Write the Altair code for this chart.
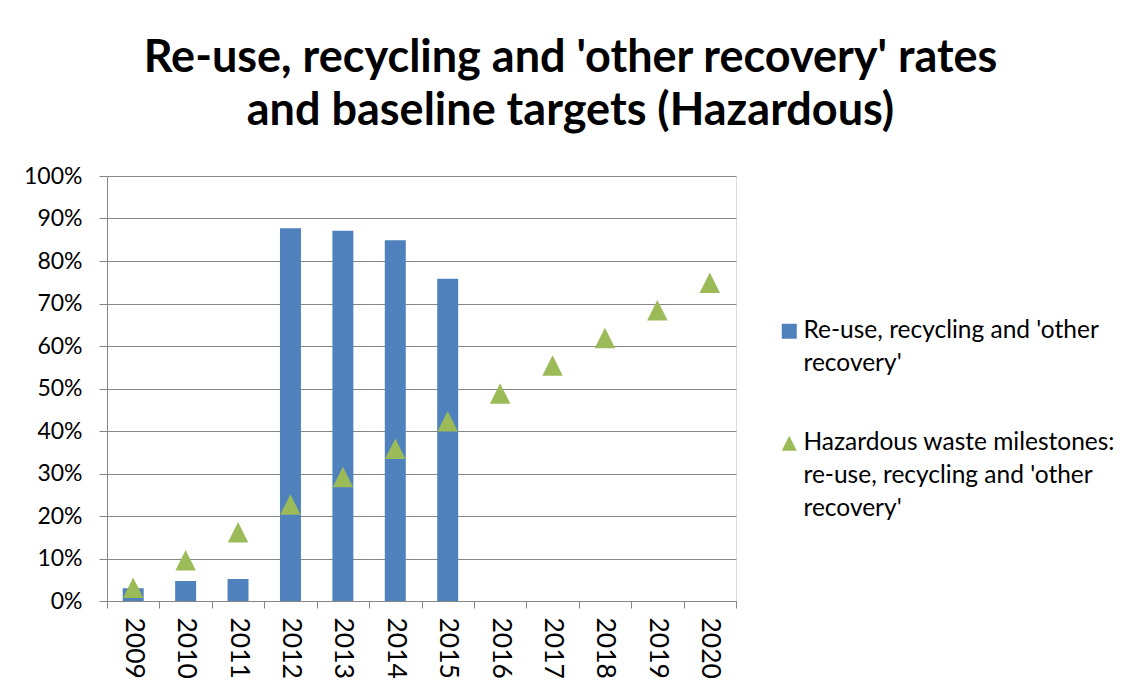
import json
import altair as alt
import pandas as pd

YEARS = ["2009", "2010", "2011", "2012", "2013", "2014", "2015",
         "2016", "2017", "2018", "2019", "2020"]
BAR_YEARS = ["2009", "2010", "2011", "2012", "2013", "2014", "2015"]
BAR_VALUES = [3.0, 4.7, 5.2, 87.7, 87.1, 84.9, 75.8]
MILESTONES = [3.1, 9.6, 16.2, 22.7, 29.2, 35.8, 42.3, 48.8, 55.4, 61.9, 68.4, 74.9]
SERIES = ["Re-use, recycling and 'other recovery'",
          "Hazardous waste milestones: re-use, recycling and 'other recovery'"]
LEGEND_LINES = [["Re-use, recycling and 'other", "recovery'"],
                ["Hazardous waste milestones:", "re-use, recycling and 'other", "recovery'"]]
TITLE = ["Re-use, recycling and 'other recovery' rates", "and baseline targets (Hazardous)"]
Y_TICKS = [0, 10, 20, 30, 40, 50, 60, 70, 80, 90, 100]

BLUE = "#4F81BD"
GREEN = "#9BBB59"
GRID = "#868686"
FONT = "Lato"

bars = pd.DataFrame({"year": BAR_YEARS, "value": BAR_VALUES, "series": SERIES[0]})
pts = pd.DataFrame({"year": YEARS, "value": MILESTONES, "series": SERIES[1]})

label_expr = ("datum.label == " + json.dumps(SERIES[0]) + " ? " + json.dumps(LEGEND_LINES[0])
              + " : " + json.dumps(LEGEND_LINES[1]))

legend = alt.Legend(
    title=None, orient="none", legendX=670, legendY=143, padding=0,
    labelFont=FONT, labelFontSize=24.5, labelColor="black", labelLimit=500,
    labelOffset=2, labelExpr=label_expr, symbolSize=225, symbolStrokeWidth=0,
    rowPadding=54, labelBaseline="middle",
)

x = alt.X("year:O", scale=alt.Scale(domain=YEARS, paddingInner=0, paddingOuter=0),
          axis=alt.Axis(title=None, labelAngle=90, tickBand="extent", tickSize=7,
                        labelPadding=9, labelFont=FONT, labelFontSize=26.5, labelColor="black",
                        domainColor=GRID, tickColor=GRID, grid=False))
y = alt.Y("value:Q", scale=alt.Scale(domain=[0, 100], nice=False),
          axis=alt.Axis(title=None, values=Y_TICKS, labelExpr="datum.value + '%'",
                        tickSize=8, labelPadding=17, labelFont=FONT, labelFontSize=23,
                        labelColor="black", domainColor=GRID, tickColor=GRID,
                        gridColor=GRID, gridWidth=1))
color = alt.Color("series:N", scale=alt.Scale(domain=SERIES, range=[BLUE, GREEN]), legend=legend)
shape = alt.Shape("series:N", scale=alt.Scale(domain=SERIES,
                                              range=["square", "M0,-1L1,1L-1,1Z"]), legend=legend)

bar_layer = alt.Chart(bars).mark_bar(width=alt.RelativeBandSize(0.4)).encode(x=x, y=y, color=color)
pt_layer = alt.Chart(pts).mark_point(filled=True, size=420, opacity=1).encode(
    x=x, y=y, color=color, shape=shape)

chart = alt.layer(bar_layer, pt_layer).properties(
    width=629, height=425,
    title=alt.TitleParams(TITLE, font=FONT, fontSize=45, fontWeight="bold", color="black",
                          anchor="middle", frame="group", dx=149, offset=-14,
                          lineHeight=53, baseline="bottom"),
    autosize=alt.AutoSizeParams(type="none"),
    padding={"left": 99, "top": 168, "right": 388, "bottom": 80},
).configure_view(stroke=None).configure(
    background="white", style={"guide-label": {"lineHeight": 33}})

chart.save("out.html", embed_options={"renderer": "svg", "actions": False})
